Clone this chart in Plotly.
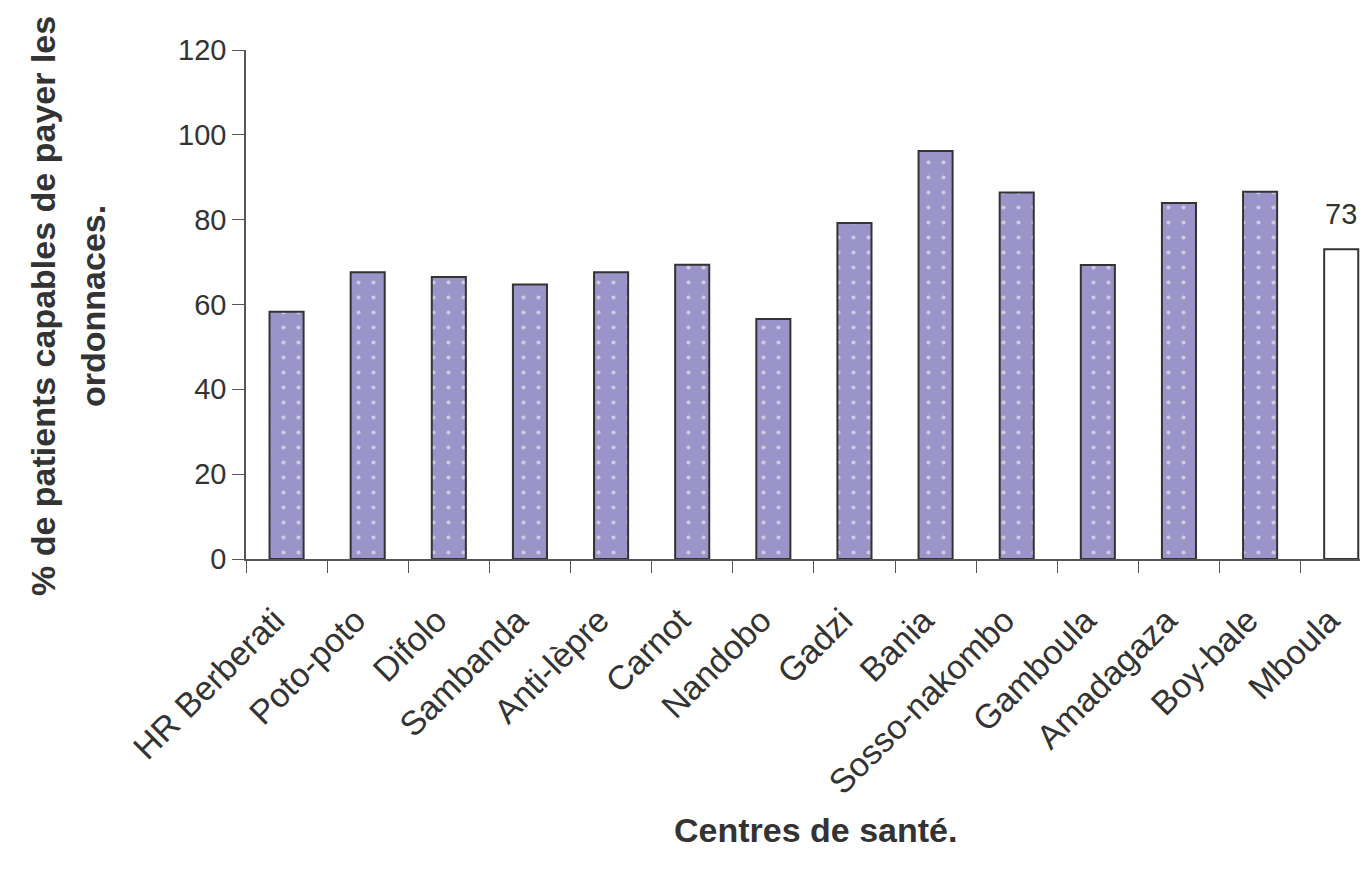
import plotly.graph_objects as go

# Centres de santé et % de patients capables de payer les ordonnances
centres = ["HR Berberati", "Poto-poto", "Difolo", "Sambanda", "Anti-lèpre", "Carnot",
           "Nandobo", "Gadzi", "Bania", "Sosso-nakombo", "Gamboula", "Amadagaza",
           "Boy-bale", "Mboula"]
pourcentages = [58.3, 67.6, 66.5, 64.7, 67.6, 69.4, 56.6, 79.2, 96.2, 86.4, 69.3, 83.9, 86.6, 73]

# the last centre (Mboula) is the reference, drawn empty with its value
autres_centres = centres[:-1]
autres_valeurs = pourcentages[:-1]
ref_centre = centres[-1]
ref_valeur = pourcentages[-1]

font_main = "Liberation Sans, Arial, sans-serif"
txt = "#333333"

# the page body has an 8px margin, so work in figure coords = page coords - 8
OFF = 8
W, H = 1368 - OFF, 870 - OFF
L, T = 246 - OFF, 50 - OFF
B = H - (559 - OFF)
PW, PH = W - L, H - T - B

fig = go.Figure()
fig.add_trace(go.Bar(
    x=autres_centres,
    y=autres_valeurs,
    width=0.42,
    marker=dict(
        color="#9a94c8",
        line=dict(color="#333333", width=2),
        pattern=dict(shape=".", fgcolor="white", bgcolor="#9a94c8", size=15, solidity=0.06),
    ),
    showlegend=False,
))
fig.add_trace(go.Bar(
    x=[ref_centre],
    y=[ref_valeur],
    width=0.42,
    marker=dict(color="white", line=dict(color="#333333", width=2)),
    showlegend=False,
))

fig.add_annotation(
    x=ref_centre, y=ref_valeur, text=f"{ref_valeur:g}",
    showarrow=False, yanchor="bottom", yshift=17,
    font=dict(family=font_main, size=29, color=txt),
)
# x axis title
fig.add_annotation(
    x=(815 - OFF - L) / PW, y=(T + PH - (830 - OFF)) / PH, xref="paper", yref="paper",
    text="<b>Centres de santé.</b>", showarrow=False,
    xanchor="center", yanchor="middle",
    font=dict(family=font_main, size=34, color=txt),
)
# y axis title, two lines
title_y = (T + PH - (306 - OFF)) / PH
for px_x, line in [(43, "% de patients capables de payer les"), (93, "ordonnaces.")]:
    fig.add_annotation(
        x=(px_x - OFF - L) / PW, y=title_y, xref="paper", yref="paper",
        text=f"<b>{line}</b>", showarrow=False, textangle=-90,
        xanchor="center", yanchor="middle",
        font=dict(family=font_main, size=34, color=txt),
    )

fig.update_layout(
    width=W, height=H,
    barmode="overlay",
    plot_bgcolor="white", paper_bgcolor="white",
    margin=dict(l=L, r=0, t=T, b=B),
    font=dict(family=font_main, size=28, color=txt),
    xaxis=dict(
        type="category",
        range=[-0.5, 13.33],
        tickangle=-45,
        tickson="boundaries",
        ticks="outside", ticklen=12, tickcolor="#555555",
        showline=True, linecolor="#555555", linewidth=1.5,
        showgrid=False, automargin=False,
        ticklabelstandoff=26, ticklabelshift=-12,
        tickfont=dict(size=34, color=txt),
    ),
    yaxis=dict(
        range=[0, 120], dtick=20,
        ticks="outside", ticklen=12, tickcolor="#555555",
        showline=True, linecolor="#555555", linewidth=1.5,
        showgrid=False, zeroline=False, automargin=False,
        tickfont=dict(size=29, color=txt),
    ),
)

fig.write_html("out.html")
